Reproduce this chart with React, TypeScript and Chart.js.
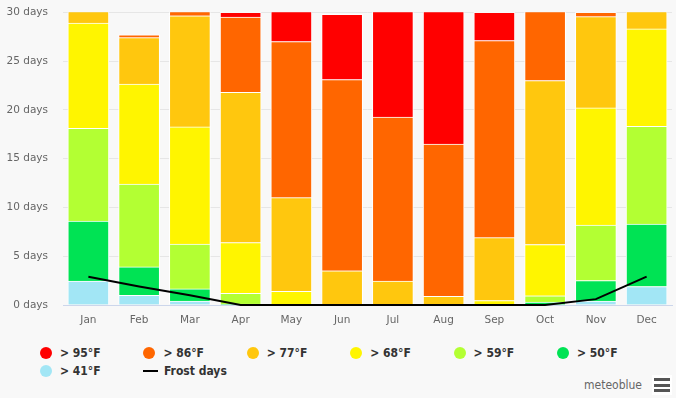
import React, { useEffect, useRef } from "react";
import { Chart, registerables } from "chart.js";

Chart.register(...registerables);

const months = ["Jan", "Feb", "Mar", "Apr", "May", "Jun", "Jul", "Aug", "Sep", "Oct", "Nov", "Dec"];
const gt95 = [0, 0, 0, 0.5, 4.0, 6.7, 11.75, 14.5, 2.9, 0, 0, 0];
const gt86 = [0, 0.3, 1.35, 7.7, 16.0, 19.6, 16.8, 15.6, 20.2, 8.0, 0.45, 0];
const gt77 = [2.0, 4.75, 11.4, 15.4, 9.6, 3.5, 2.45, 0.9, 6.45, 16.8, 9.35, 2.7];
const gt68 = [10.8, 10.25, 12.0, 5.2, 1.4, 0, 0, 0, 0.45, 5.25, 12.0, 10.0];
const gt59 = [9.5, 8.5, 4.6, 1.1, 0, 0, 0, 0, 0, 0.65, 5.7, 10.0];
const gt50 = [6.15, 2.9, 1.25, 0.1, 0, 0, 0, 0, 0, 0.3, 2.1, 6.4];
const gt41 = [2.45, 1.0, 0.4, 0, 0, 0, 0, 0, 0, 0, 0.4, 1.9];
const frostDays = [2.9, 1.9, 1.0, 0, 0, 0, 0, 0, 0, 0, 0.6, 2.9];
const yTicks = [0, 5, 10, 15, 20, 25, 30];

const series = [
  { label: "> 41°F", data: gt41, color: "#a2e6f5" },
  { label: "> 50°F", data: gt50, color: "#00e354" },
  { label: "> 59°F", data: gt59, color: "#b3ff33" },
  { label: "> 68°F", data: gt68, color: "#fff500" },
  { label: "> 77°F", data: gt77, color: "#ffc70e" },
  { label: "> 86°F", data: gt86, color: "#ff6600" },
  { label: "> 95°F", data: gt95, color: "#ff0000" },
];

const legendOrder = [6, 5, 4, 3, 2, 1, 0];

export default function App() {
  const ref = useRef<HTMLCanvasElement>(null);

  useEffect(() => {
    document.body.style.margin = "0";
    const ctx = ref.current!;
    const chart = new Chart(ctx, {
      type: "bar",
      data: {
        labels: months,
        datasets: [
          {
            type: "line",
            label: "Frost days",
            data: frostDays,
            borderColor: "#000000",
            borderWidth: 2,
            pointRadius: 0,
            tension: 0,
            fill: false,
            stack: "frost",
            order: 0,
            clip: false,
          } as any,
          ...series.map((s) => ({
            type: "bar",
            label: s.label,
            data: s.data,
            backgroundColor: s.color,
            borderColor: "#ffffff",
            borderWidth: 1,
            barThickness: 41,
            stack: "temp",
            order: 1,
          })),
        ],
      },
      options: {
        responsive: false,
        animation: false,
        devicePixelRatio: 1,
        layout: { padding: { top: 2, right: 4, bottom: 0, left: 0 } },
        plugins: {
          legend: { display: false },
          tooltip: { enabled: false },
        },
        scales: {
          x: {
            stacked: true,
            grid: { display: false, drawTicks: false },
            border: { display: true, color: "#ccd6eb", width: 1 },
            ticks: {
              color: "#666666",
              font: { family: "DejaVu Sans", size: 10.5 },
              padding: 9,
            },
            afterFit: (scale: any) => {
              scale.height = 25;
            },
          },
          y: {
            stacked: true,
            min: 0,
            max: 30,
            afterBuildTicks: (scale: any) => {
              scale.ticks = yTicks.map((v) => ({ value: v }));
            },
            grid: {
              color: (c: any) => (c.tick && c.tick.value === 0 ? "rgba(0,0,0,0)" : "#e6e6e6"),
              drawTicks: false,
            },
            border: { display: false },
            ticks: {
              color: "#666666",
              font: { family: "DejaVu Sans", size: 10.5 },
              padding: 15,
              callback: (v: any) => `${v} days`,
            },
            afterFit: (scale: any) => {
              scale.width = 63;
            },
          },
        },
      },
    });
    return () => chart.destroy();
  }, []);

  const legendItems = legendOrder.map((i) => series[i]);

  const legendFont = {
    fontFamily: "'DejaVu Sans Condensed', 'DejaVu Sans'",
    fontStretch: "condensed",
    fontWeight: "bold",
    fontSize: 12,
    color: "#333333",
    whiteSpace: "nowrap",
  } as React.CSSProperties;

  return (
    <div
      style={{
        position: "fixed",
        left: 0,
        top: 0,
        width: 676,
        height: 398,
        background: "#f8f8f8",
        overflow: "hidden",
      }}
    >
      <canvas ref={ref} width={676} height={339} style={{ position: "absolute", left: 0, top: -9 }} />
      {legendItems.map((s, k) => {
        const row = Math.floor(k / 6);
        const col = k % 6;
        return (
          <div
            key={s.label}
            style={{
              ...legendFont,
              position: "absolute",
              left: 40 + col * 103.4,
              top: row === 0 ? 344 : 362,
              height: 17,
              display: "flex",
              alignItems: "center",
            }}
          >
            <span
              style={{
                display: "inline-block",
                width: 12,
                height: 12,
                borderRadius: "50%",
                background: s.color,
                marginRight: 8,
              }}
            />
            {s.label}
          </div>
        );
      })}
      <div
        style={{
          ...legendFont,
          position: "absolute",
          left: 143,
          top: 362,
          height: 17,
          display: "flex",
          alignItems: "center",
        }}
      >
        <span style={{ display: "inline-block", width: 15, height: 2, background: "#000", marginRight: 6 }} />
        Frost days
      </div>
      <div
        style={{
          position: "absolute",
          left: 584,
          top: 378,
          fontFamily: "'DejaVu Sans Condensed', 'DejaVu Sans'",
          fontStretch: "condensed",
          fontSize: 12,
          color: "#666666",
          whiteSpace: "nowrap",
        }}
      >
        meteoblue
      </div>
      <div
        style={{
          position: "absolute",
          left: 652,
          top: 375,
          width: 20,
          height: 20,
          background: "#ffffff",
        }}
      >
        {[0, 1, 2].map((i) => (
          <div
            key={i}
            style={{
              position: "absolute",
              left: 2,
              top: 3 + i * 5.5,
              width: 16,
              height: 3,
              background: "#555555",
            }}
          />
        ))}
      </div>
    </div>
  );
}
